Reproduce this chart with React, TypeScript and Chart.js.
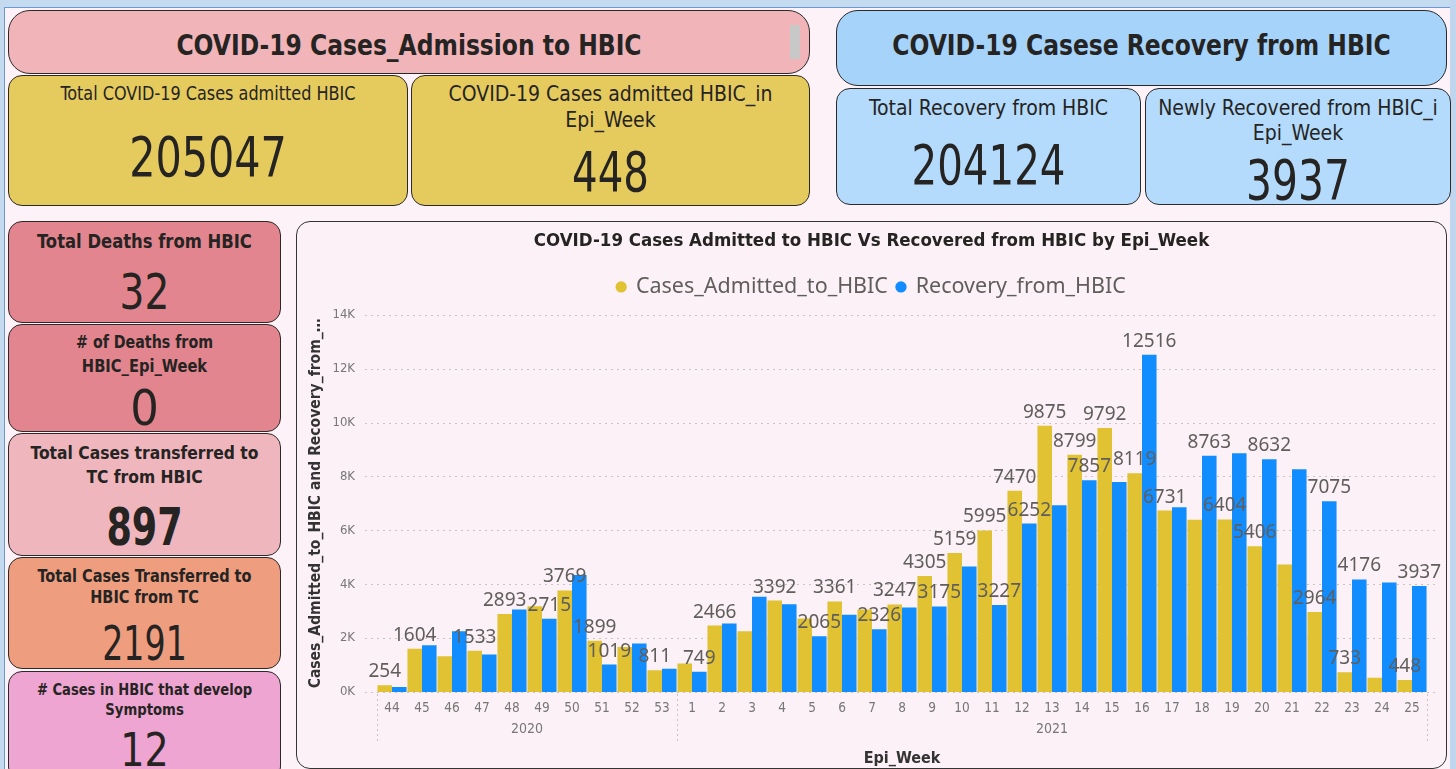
import React, { useEffect, useRef } from "react";
import { Chart, registerables } from "chart.js";

Chart.register(...registerables);

// ---------------- DATA ----------------
const weeks = ["44", "45", "46", "47", "48", "49", "50", "51", "52", "53",
  "1", "2", "3", "4", "5", "6", "7", "8", "9", "10", "11", "12", "13", "14", "15",
  "16", "17", "18", "19", "20", "21", "22", "23", "24", "25"];
const weekYears = ["2020", "2020", "2020", "2020", "2020", "2020", "2020", "2020", "2020", "2020",
  "2021", "2021", "2021", "2021", "2021", "2021", "2021", "2021", "2021", "2021", "2021", "2021", "2021", "2021", "2021",
  "2021", "2021", "2021", "2021", "2021", "2021", "2021", "2021", "2021", "2021"];
const admitted = [254, 1604, 1326, 1533, 2893, 3184, 3769, 1899, 1673, 811,
  1053, 2466, 2255, 3392, 2726, 3361, 3060, 3247, 4305, 5159, 5995, 7470, 9875, 8799, 9792,
  8119, 6731, 6394, 6404, 5406, 4733, 2964, 733, 533, 448];
const recovered = [190, 1735, 2255, 1388, 3060, 2715, 4337, 1019, 1797, 860,
  749, 2540, 3531, 3259, 2065, 2862, 2326, 3135, 3175, 4659, 3227, 6252, 6927, 7857, 7794,
  12516, 6852, 8763, 8860, 8632, 8265, 7075, 4176, 4064, 3937];
// weeks whose data label is visible in the reference
const admittedLabelWeeks = ["44", "45", "47", "48", "50", "51", "53", "2", "4", "6", "8", "9", "10",
  "11", "12", "13", "14", "15", "16", "17", "19", "20", "22", "23", "25"];
const recoveredLabelWeeks = ["49", "51", "1", "5", "7", "9", "11", "12", "14", "16", "18", "20", "22", "23", "25"];
const yTicks = [0, 2000, 4000, 6000, 8000, 10000, 12000, 14000];

const seriesNames = ["Cases_Admitted_to_HBIC", "Recovery_from_HBIC"];
const chartTitle = "COVID-19 Cases Admitted to HBIC Vs Recovered from HBIC by Epi_Week";
const yAxisTitle = "Cases_Admitted_to_HBIC and Recovery_from_…";
const xAxisTitle = "Epi_Week";

// KPI cards text
const kpiAdmissionHeader = "COVID-19 Cases_Admission to HBIC";
const kpiRecoveryHeader = "COVID-19 Casese Recovery from HBIC";
const kpiTotalAdmitted = ["Total COVID-19 Cases admitted HBIC", "205047"];
const kpiWeekAdmitted = ["COVID-19 Cases admitted HBIC_in", "Epi_Week", "448"];
const kpiTotalRecovery = ["Total Recovery from HBIC", "204124"];
const kpiWeekRecovery = ["Newly Recovered from HBIC_i", "Epi_Week", "3937"];
const kpiDeaths = ["Total Deaths from HBIC", "32"];
const kpiWeekDeaths = ["# of Deaths from", "HBIC_Epi_Week", "0"];
const kpiToTC = ["Total Cases transferred to", "TC from HBIC", "897"];
const kpiFromTC = ["Total Cases Transferred to", "HBIC from TC", "2191"];
const kpiSymptoms = ["# Cases in HBIC that develop", "Symptoms", "12"];

// ---------------- STYLE ----------------
const DIN = "'Liberation Sans Narrow', 'DejaVu Sans Condensed', sans-serif";
const SEGOE = "'Noto Sans', 'Open Sans', sans-serif";
const YELLOW = "#E0C232";
const BLUE = "#118DFF";

type Line = { t: string; y: number; size: number; weight?: number; sx?: number };
type Box = { x: number; y: number; w: number; h: number; bg: string; r: number; lines: Line[] };

function Card({ b }: { b: Box }) {
  return (
    <div style={{
      position: "absolute", left: b.x, top: b.y, width: b.w, height: b.h, background: b.bg,
      borderRadius: b.r, border: "1.5px solid #2a2a2a", boxSizing: "border-box", overflow: "hidden",
    }}>
      {b.lines.map((l, i) => (
        <div key={i} style={{
          position: "absolute", left: 0, right: 0, top: l.y - b.y - 1.5,
          transform: `translateY(-50%) scaleX(${l.sx ?? 1})`, transformOrigin: "center",
          textAlign: "center", fontFamily: DIN, fontSize: l.size, fontWeight: l.weight ?? 400,
          lineHeight: 1, whiteSpace: "nowrap", color: "#252423",
        }}>{l.t}</div>
      ))}
    </div>
  );
}

const gridPlugin = {
  id: "dottedGrid",
  beforeDatasetsDraw(chart: any) {
    const { ctx, chartArea, scales } = chart;
    ctx.save();
    ctx.strokeStyle = "#C8C6C4";
    ctx.lineWidth = 1;
    ctx.setLineDash([2, 4]);
    yTicks.forEach((v) => {
      const y = Math.round(scales.y.getPixelForValue(v)) + 0.5;
      ctx.beginPath();
      ctx.moveTo(chartArea.left - 12, y);
      ctx.lineTo(chartArea.right + 10, y);
      ctx.stroke();
    });
    ctx.restore();
  },
};

const labelPlugin = {
  id: "barLabels",
  afterDatasetsDraw(chart: any) {
    const { ctx } = chart;
    const lists = [admittedLabelWeeks, recoveredLabelWeeks];
    ctx.save();
    ctx.font = `19px ${SEGOE}`;
    ctx.fillStyle = "#605E5C";
    ctx.textAlign = "center";
    ctx.textBaseline = "alphabetic";
    chart.data.datasets.forEach((ds: any, di: number) => {
      const meta = chart.getDatasetMeta(di);
      weeks.forEach((w, j) => {
        if (!lists[di].includes(w)) return;
        const bar = meta.data[j];
        ctx.fillText(String(ds.data[j]), bar.x, bar.y - 8);
      });
    });
    ctx.restore();
  },
};

const yearPlugin = {
  id: "yearAxis",
  afterDraw(chart: any) {
    const { ctx, chartArea, scales } = chart;
    const x = scales.x;
    const half = (x.getPixelForValue(1) - x.getPixelForValue(0)) / 2;
    const groups: { year: string; start: number; end: number }[] = [];
    weekYears.forEach((yr, i) => {
      const g = groups[groups.length - 1];
      if (g && g.year === yr) g.end = i;
      else groups.push({ year: yr, start: i, end: i });
    });
    const bottom = chartArea.bottom;
    ctx.save();
    ctx.strokeStyle = "#C8C6C4";
    ctx.lineWidth = 1;
    const bounds: number[] = [];
    groups.forEach((g, gi) => {
      const l = x.getPixelForValue(g.start) - half;
      const r = x.getPixelForValue(g.end) + half;
      if (gi === 0) bounds.push(l);
      bounds.push(r);
      ctx.font = `14px ${DIN}`;
      ctx.fillStyle = "#777777";
      ctx.textAlign = "center";
      ctx.textBaseline = "middle";
      ctx.fillText(g.year, (l + r) / 2, bottom + 37);
    });
    ctx.setLineDash([2, 3]);
    bounds.forEach((bx) => {
      const xx = Math.round(bx) + 0.5;
      ctx.beginPath();
      ctx.moveTo(xx, bottom + 2);
      ctx.lineTo(xx, bottom + 49);
      ctx.stroke();
    });
    ctx.restore();
  },
};

const legendSpacing = {
  id: "legendSpacing",
  beforeLayout(chart: any) {
    const lg = chart.legend;
    if (lg && !lg.__patched) {
      const orig = lg.fit;
      lg.fit = function () {
        orig.call(this);
        this.height += 7;
      };
      lg.__patched = true;
    }
  },
};

function BarChart() {
  const ref = useRef<HTMLCanvasElement>(null);
  useEffect(() => {
    if (!ref.current) return;
    const chart = new Chart(ref.current, {
      type: "bar",
      data: {
        labels: weeks,
        datasets: [
          { label: seriesNames[0], data: admitted, backgroundColor: YELLOW, categoryPercentage: 0.97, barPercentage: 1 },
          { label: seriesNames[1], data: recovered, backgroundColor: BLUE, categoryPercentage: 0.97, barPercentage: 1 },
        ],
      },
      options: {
        animation: false,
        responsive: false,
        maintainAspectRatio: false,
        layout: { padding: { left: 10, right: 10, top: 0, bottom: 0 } },
        plugins: {
          title: {
            display: true, text: chartTitle, color: "#252423",
            font: { family: DIN, size: 18.5, weight: "bold" }, padding: { top: 9, bottom: 15 },
          },
          legend: {
            display: true,
            labels: {
              usePointStyle: true, pointStyle: "circle", boxWidth: 8, boxHeight: 8,
              font: { family: SEGOE, size: 21.5 }, color: "#605E5C", padding: 9,
            },
          },
          tooltip: { enabled: false },
        },
        scales: {
          x: {
            grid: { display: false, drawTicks: false },
            border: { display: false },
            ticks: { font: { family: DIN, size: 13.5 }, color: "#777777", padding: 8, maxRotation: 0, autoSkip: false },
            title: { display: true, text: xAxisTitle, color: "#333333", font: { family: DIN, size: 16, weight: "bold" }, padding: { top: 0, bottom: 1 } },
            afterFit(s: any) { s.height = 77; },
          },
          y: {
            min: 0, max: 14000,
            grid: { display: false, drawTicks: false },
            border: { display: false },
            ticks: {
              stepSize: 2000, padding: 22, color: "#777777", font: { family: DIN, size: 13 },
              callback: (v: any) => `${Number(v) / 1000}K`,
            },
            title: { display: true, text: yAxisTitle, color: "#333333", font: { family: DIN, size: 15.5, weight: "bold" }, padding: { top: 1, bottom: 0 } },
            afterFit(s: any) { s.width = 71; },
          },
          yPad: {
            position: "right", display: true,
            grid: { display: false, drawTicks: false }, border: { display: false },
            ticks: { display: false },
            afterFit(s: any) { s.width = 10; },
          },
        },
      } as any,
      plugins: [gridPlugin, labelPlugin, yearPlugin, legendSpacing],
    });
    return () => chart.destroy();
  }, []);
  return <canvas ref={ref} width={1151} height={548} style={{ position: "absolute", left: 296, top: 221, width: 1151, height: 548 }} />;
}

export default function App() {
  const boxes: Box[] = [
    { x: 8, y: 10, w: 802, h: 64, bg: "#F0B4B9", r: 22, lines: [{ t: kpiAdmissionHeader, y: 46, size: 28, weight: 700, sx: 0.93 }] },
    { x: 8, y: 75, w: 400, h: 131, bg: "#E5CA5D", r: 14, lines: [
      { t: kpiTotalAdmitted[0], y: 93, size: 19, sx: 0.94 }, { t: kpiTotalAdmitted[1], y: 157, size: 56, sx: 0.82 }] },
    { x: 411, y: 75, w: 399, h: 131, bg: "#E5CA5D", r: 14, lines: [
      { t: kpiWeekAdmitted[0], y: 94, size: 21 }, { t: kpiWeekAdmitted[1], y: 120, size: 21 }, { t: kpiWeekAdmitted[2], y: 172, size: 56, sx: 0.8 }] },
    { x: 836, y: 10, w: 611, h: 76, bg: "#A6D3FA", r: 22, lines: [{ t: kpiRecoveryHeader, y: 46, size: 28, weight: 700, sx: 0.93 }] },
    { x: 836, y: 88, w: 305, h: 117, bg: "#B4DBFB", r: 14, lines: [
      { t: kpiTotalRecovery[0], y: 108, size: 21 }, { t: kpiTotalRecovery[1], y: 165, size: 56, sx: 0.8 }] },
    { x: 1145, y: 88, w: 306, h: 117, bg: "#B4DBFB", r: 14, lines: [
      { t: kpiWeekRecovery[0], y: 108, size: 21 }, { t: kpiWeekRecovery[1], y: 133, size: 21 }, { t: kpiWeekRecovery[2], y: 180, size: 56, sx: 0.81 }] },
    { x: 8, y: 221, w: 273, h: 102, bg: "#E3858E", r: 14, lines: [
      { t: kpiDeaths[0], y: 241, size: 19, weight: 700, sx: 0.96 }, { t: kpiDeaths[1], y: 292, size: 50, sx: 0.87 }] },
    { x: 8, y: 324, w: 273, h: 108, bg: "#E3858E", r: 14, lines: [
      { t: kpiWeekDeaths[0], y: 342, size: 17, weight: 700, sx: 0.93 }, { t: kpiWeekDeaths[1], y: 366, size: 17, weight: 700, sx: 0.96 }, { t: kpiWeekDeaths[2], y: 408, size: 50 }] },
    { x: 8, y: 433, w: 273, h: 123, bg: "#EFB6BD", r: 14, lines: [
      { t: kpiToTC[0], y: 453, size: 18, weight: 700, sx: 0.96 }, { t: kpiToTC[1], y: 477, size: 18, weight: 700, sx: 0.96 }, { t: kpiToTC[2], y: 527, size: 52, weight: 700, sx: 0.78 }] },
    { x: 8, y: 557, w: 273, h: 112, bg: "#EE9E7F", r: 14, lines: [
      { t: kpiFromTC[0], y: 576, size: 17, weight: 700, sx: 0.95 }, { t: kpiFromTC[1], y: 597, size: 17, weight: 700, sx: 0.95 }, { t: kpiFromTC[2], y: 643, size: 48, sx: 0.77 }] },
    { x: 8, y: 671, w: 273, h: 110, bg: "#EEA5D2", r: 14, lines: [
      { t: kpiSymptoms[0], y: 690, size: 16, weight: 700, sx: 0.91 }, { t: kpiSymptoms[1], y: 710, size: 16, weight: 700, sx: 0.92 }, { t: kpiSymptoms[2], y: 750, size: 46, sx: 0.92 }] },
  ];
  return (
    <div style={{ position: "fixed", left: 0, top: 0, width: 1456, height: 769, overflow: "hidden", background: "#FCF2F7" }}>
      <div style={{ position: "absolute", left: 0, top: 0, width: 1456, height: 7, background: "#C4DAEF" }} />
      <div style={{ position: "absolute", left: 0, top: 7, width: 1456, height: 1, background: "#6B9AD6" }} />
      <div style={{ position: "absolute", left: 0, top: 0, width: 4, height: 769, background: "#C4DAEF" }} />
      <div style={{ position: "absolute", left: 4, top: 7, width: 1, height: 762, background: "#6B9AD6" }} />
      <div style={{ position: "absolute", left: 1450, top: 0, width: 6, height: 769, background: "#BFD6EE" }} />
      {boxes.map((b, i) => <Card key={i} b={b} />)}
      <div style={{ position: "absolute", left: 790, top: 25, width: 10, height: 34, background: "#C8C8C8" }} />
      <div style={{
        position: "absolute", left: 296, top: 221, width: 1151, height: 548, boxSizing: "border-box",
        border: "1.5px solid #333", borderRadius: 14, background: "#FBF1F6",
      }} />
      <BarChart />
    </div>
  );
}
